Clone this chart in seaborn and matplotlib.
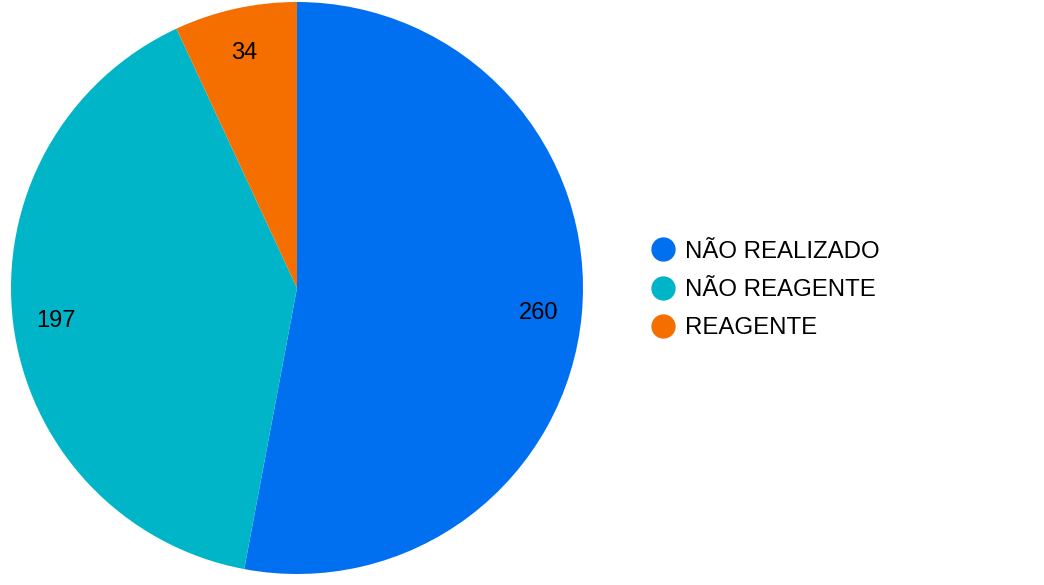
import matplotlib
matplotlib.use("Agg")
import matplotlib.pyplot as plt
from matplotlib.lines import Line2D
import seaborn as sns

categories = ["NÃO REALIZADO", "NÃO REAGENTE", "REAGENTE"]
values = [260, 197, 34]
colors = ["#0070F0", "#00B5C8", "#F56F00"]

sns.set_theme(style="white")
plt.rcParams['font.family'] = ['Liberation Sans', 'DejaVu Sans']
plt.rcParams['text.color'] = 'black'

W, H = 1044, 585
fig = plt.figure(figsize=(W / 100, H / 100), dpi=100)
cx, cy, r = 297, 288, 286
ax = fig.add_axes([(cx - r) / W, (H - cy - r) / H, 2 * r / W, 2 * r / H])

wedges, texts = ax.pie(values, colors=colors, startangle=90, counterclock=False,
                       labels=[str(v) for v in values], labeldistance=0.85,
                       textprops=dict(fontsize=17, color="black"),
                       wedgeprops=dict(linewidth=0))
for t in texts:
    t.set_ha("center")
    t.set_va("center_baseline")
ax.set_xlim(-1, 1)
ax.set_ylim(-1, 1)
ax.set_aspect("equal")
ax.axis("off")

handles = [Line2D([0], [0], marker="o", linestyle="none", markersize=16.5,
                  markerfacecolor=c, markeredgecolor=c) for c in colors]
leg = fig.legend(handles, categories, loc="center left", bbox_to_anchor=(651 / W, 1 - 290 / H),
                 frameon=False, fontsize=17.3, handlelength=1.0, handletextpad=0.42,
                 labelspacing=0.68, borderpad=0, borderaxespad=0)
for t in leg.get_texts():
    t.set_color("black")

fig.savefig("out.png", dpi=100)
